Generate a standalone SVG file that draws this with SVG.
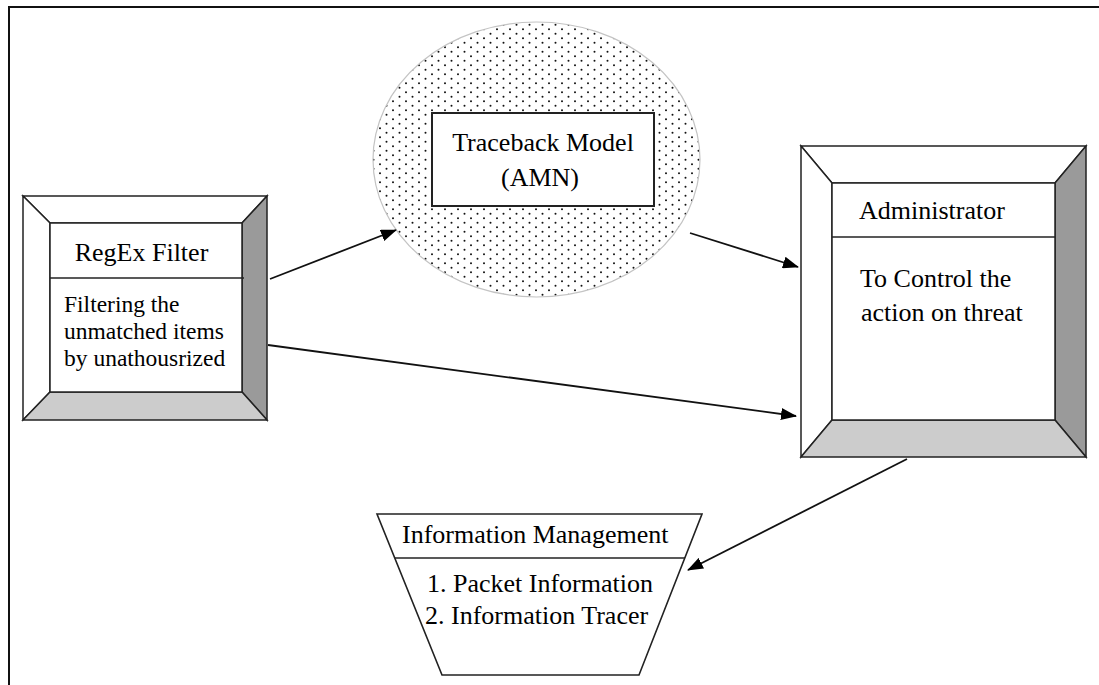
<svg xmlns="http://www.w3.org/2000/svg" width="1099" height="685" viewBox="0 0 1099 685">
<style>
.t{font-family:"Liberation Serif","Times New Roman",serif;font-size:26px;fill:#000}
.b{font-size:23.5px}
.ln{stroke:#222;stroke-width:1.6;fill:none}
.bev{stroke:#222;stroke-width:1.5;stroke-linejoin:miter}
.w{fill:#fff}
.d{fill:#9a9a9a}
.l{fill:#cccccc}
.c{stroke:#111;stroke-width:1.8;fill:none}
</style>
<defs>
<pattern id="dots" width="13" height="9" patternUnits="userSpaceOnUse">
<rect width="13" height="9" fill="#fff"/>
<circle cx="3" cy="2.25" r="1" fill="#111"/>
<circle cx="9.5" cy="6.75" r="1" fill="#111"/>
</pattern>
<marker id="ah" markerWidth="16" markerHeight="12" refX="15" refY="6" orient="auto" markerUnits="userSpaceOnUse">
<path d="M0,0 L16,6 L0,12 z" fill="#000"/>
</marker>
</defs>
<rect width="1099" height="685" fill="#fff"/>
<path d="M9,685 L9,7 L1099,7" stroke="#111" stroke-width="2" fill="none"/>

<g id="regex">
<polygon class="bev w" points="23,196 267,196 242,223 50,223"/>
<polygon class="bev w" points="23,196 50,223 50,392 23,420"/>
<polygon class="bev d" points="267,196 267,420 242,392 242,223"/>
<polygon class="bev l" points="23,420 267,420 242,392 50,392"/>
<rect class="bev w" x="50" y="223" width="192" height="169"/>
<line class="ln" x1="50" y1="278" x2="244" y2="278"/>
<text class="t" x="141.5" y="261" text-anchor="middle">RegEx Filter</text>
<text class="t b" x="64" y="312">Filtering the</text>
<text class="t b" x="64" y="339">unmatched items</text>
<text class="t b" x="64" y="366">by unathousrized</text>
</g>

<g id="traceback">
<ellipse cx="536.5" cy="159.5" rx="163.5" ry="137.5" fill="url(#dots)" stroke="#c4c4c4" stroke-width="1.2"/>
<rect x="432" y="113" width="222" height="93" fill="#fff" stroke="#222" stroke-width="2"/>
<text class="t" x="543" y="151" text-anchor="middle">Traceback Model</text>
<text class="t" x="540" y="186" text-anchor="middle">(AMN)</text>
</g>

<g id="administrator">
<polygon class="bev w" points="801,146 1086,146 1055,183 832,183"/>
<polygon class="bev w" points="801,146 832,183 832,420 801,457"/>
<polygon class="bev d" points="1086,146 1086,457 1055,420 1055,183"/>
<polygon class="bev l" points="801,457 1086,457 1055,420 832,420"/>
<rect class="bev w" x="832" y="183" width="223" height="237"/>
<line class="ln" x1="832" y1="237" x2="1055" y2="237"/>
<text class="t" x="859" y="219">Administrator</text>
<text class="t" x="860" y="287">To Control the</text>
<text class="t" x="861" y="321">action on threat</text>
</g>

<g id="infomgmt">
<polygon points="377,514 702,514 639,675 442,675" fill="#fff" stroke="#222" stroke-width="1.6"/>
<line class="ln" x1="395" y1="558" x2="685" y2="558"/>
<text class="t" x="402" y="543">Information Management</text>
<text class="t" x="427" y="592">1. Packet Information</text>
<text class="t" x="425" y="624">2. Information Tracer</text>
</g>

<g id="connectors">
<line class="c" x1="270" y1="279" x2="396" y2="230" marker-end="url(#ah)"/>
<line class="c" x1="690" y1="233" x2="798" y2="267" marker-end="url(#ah)"/>
<line class="c" x1="268" y1="345" x2="796" y2="416" marker-end="url(#ah)"/>
<line class="c" x1="907" y1="459" x2="688" y2="570" marker-end="url(#ah)"/>
</g>
</svg>
